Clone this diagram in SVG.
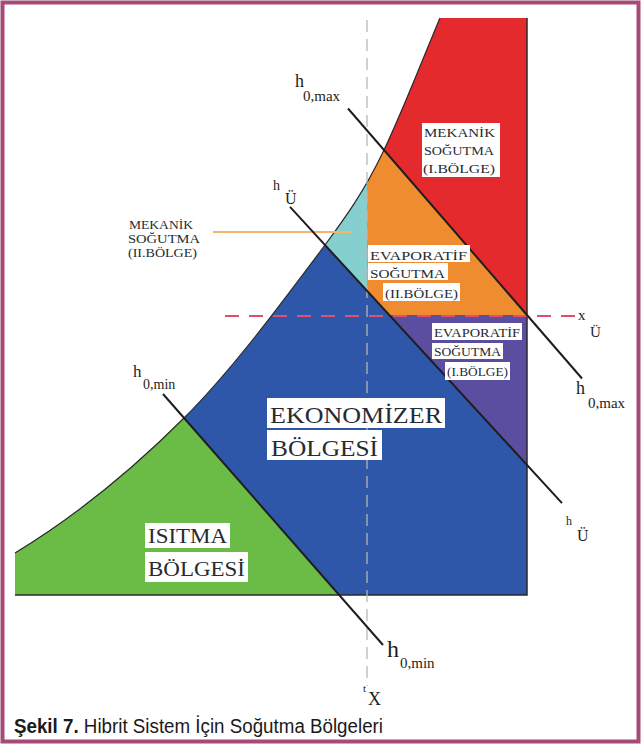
<svg xmlns="http://www.w3.org/2000/svg" width="641" height="745" viewBox="0 0 641 745">
<style>
.lbl{font-family:"Liberation Serif","Times New Roman",serif;fill:#1e1e1e}
.box{fill:#ffffff}
.bt{font-family:"Liberation Serif","Times New Roman",serif;fill:#262b32}
.ln{stroke:#1e1e1e;stroke-width:2;fill:none}
</style>
<defs>
<clipPath id="sat">
<path d="M15,553 C71,519 128,474 184,418 C231,371 278,308 325,245 C345,218 364,192 384,150 C403,110 421,63 440,18 L527,18 L527,595 L15,595 Z"/>
</clipPath>
</defs>
<rect x="0" y="0" width="641" height="745" fill="#ffffff"/>
<rect x="2.5" y="2.5" width="636" height="739" fill="none" stroke="#a64a78" stroke-width="4"/>

<g id="regions" clip-path="url(#sat)">
<rect id="blue" x="0" y="0" width="641" height="745" fill="#2f57a9"/>
<polygon id="green" points="0,208.2 400,664.2 0,664.2" fill="#6bbb47"/>
<polygon id="cyan" points="200,108.9 367,290.7 367,0 200,0" fill="#86cfcf"/>
<polygon id="orange" points="367,290.7 367,130.4 527,315 389.3,315" fill="#f08c30"/>
<polygon id="red" points="330,87.7 330,0 527,0 527,315" fill="#e52a2d"/>
<polygon id="purple" points="389.3,315 527,315 527,465.5" fill="#5b4da0"/>
</g>
<path id="curve" d="M15,553 C71,519 128,474 184,418 C231,371 278,308 325,245 C345,218 364,192 384,150 C403,110 421,63 440,18" fill="none" stroke="#2a2a2a" stroke-width="1.2"/>
<path d="M527,18 L527,595 L15,595" fill="none" stroke="#2a2a2a" stroke-width="1.5"/>

<g id="connectors">
<line x1="367" y1="20" x2="367" y2="686" stroke="#b8b8b8" stroke-width="1.5" stroke-dasharray="12 7" opacity="0.85"/>
<line x1="225" y1="316" x2="577" y2="316" stroke="#e0506e" stroke-width="2" stroke-dasharray="14 10"/>
<line x1="213" y1="232" x2="352" y2="232" stroke="#f4b46a" stroke-width="2"/>
<line class="ln" x1="348" y1="108.5" x2="582" y2="378.5"/>
<line class="ln" x1="290" y1="206.9" x2="562" y2="503.1"/>
<line class="ln" x1="163" y1="394" x2="383" y2="645"/>
</g>

<g id="axis-labels">
<text class="lbl" x="295" y="87" font-size="18">h</text>
<text class="lbl" x="303" y="101" font-size="15">0,max</text>
<text class="lbl" x="576" y="394" font-size="18">h</text>
<text class="lbl" x="588" y="408" font-size="15">0,max</text>
<text class="lbl" x="273" y="190" font-size="14">h</text>
<text class="lbl" x="285" y="204" font-size="16">Ü</text>
<text class="lbl" x="566" y="525" font-size="12">h</text>
<text class="lbl" x="577" y="541" font-size="16">Ü</text>
<text class="lbl" x="133" y="377" font-size="17">h</text>
<text class="lbl" x="143" y="389" font-size="14">0,min</text>
<text class="lbl" x="387" y="657" font-size="24">h</text>
<text class="lbl" x="400" y="668" font-size="15">0,min</text>
<text class="lbl" x="578" y="320" font-size="15">x</text>
<text class="lbl" x="590" y="337" font-size="15">Ü</text>
<text class="lbl" x="363" y="692" font-size="11">t</text>
<text class="lbl" x="368" y="705" font-size="18">X</text>
</g>

<g id="mekanik-1">
<rect class="box" x="422" y="123" width="78" height="54"/>
<text class="bt" x="424" y="137" font-size="12" textLength="71" lengthAdjust="spacingAndGlyphs">MEKANİK</text>
<text class="bt" x="424" y="155" font-size="12" textLength="70" lengthAdjust="spacingAndGlyphs">SOĞUTMA</text>
<text class="bt" x="423" y="173" font-size="12" textLength="72" lengthAdjust="spacingAndGlyphs">(I.BÖLGE)</text>
</g>

<g id="mekanik-2">
<text class="bt" x="129" y="229" font-size="13" textLength="64" lengthAdjust="spacingAndGlyphs" fill="#3a4550">MEKANİK</text>
<text class="bt" x="128" y="243" font-size="13" textLength="72" lengthAdjust="spacingAndGlyphs" fill="#3a4550">SOĞUTMA</text>
<text class="bt" x="128" y="257" font-size="13" textLength="69" lengthAdjust="spacingAndGlyphs" fill="#3a4550">(II.BÖLGE)</text>
</g>

<g id="evaporatif-2">
<rect class="box" x="368" y="245" width="102" height="17"/>
<text class="bt" x="370" y="260" font-size="13" textLength="97" lengthAdjust="spacingAndGlyphs">EVAPORATİF</text>
<rect class="box" x="368" y="263" width="80" height="17"/>
<text class="bt" x="370" y="278" font-size="13" textLength="75" lengthAdjust="spacingAndGlyphs">SOĞUTMA</text>
<rect class="box" x="383" y="283" width="77" height="18"/>
<text class="bt" x="385" y="298" font-size="13" textLength="73" lengthAdjust="spacingAndGlyphs">(II.BÖLGE)</text>
</g>

<g id="evaporatif-1">
<rect class="box" x="432" y="323" width="90" height="17"/>
<text class="bt" x="434" y="337" font-size="12" textLength="86" lengthAdjust="spacingAndGlyphs">EVAPORATİF</text>
<rect class="box" x="432" y="343" width="71" height="16"/>
<text class="bt" x="434" y="356" font-size="12" textLength="67" lengthAdjust="spacingAndGlyphs">SOĞUTMA</text>
<rect class="box" x="445" y="362" width="65" height="18"/>
<text class="bt" x="447" y="376" font-size="12" textLength="61" lengthAdjust="spacingAndGlyphs">(I.BÖLGE)</text>
</g>

<g id="ekonomizer">
<rect class="box" x="267" y="398" width="178" height="30"/>
<text class="bt" x="270" y="423" font-size="23" textLength="172" lengthAdjust="spacingAndGlyphs">EKONOMİZER</text>
<rect class="box" x="267" y="430" width="115" height="30"/>
<text class="bt" x="271" y="456" font-size="23" textLength="107" lengthAdjust="spacingAndGlyphs">BÖLGESİ</text>
</g>

<g id="isitma">
<rect class="box" x="145" y="523" width="85" height="25"/>
<text class="bt" x="148" y="543" font-size="20" textLength="79" lengthAdjust="spacingAndGlyphs">ISITMA</text>
<rect class="box" x="145" y="552" width="103" height="30"/>
<text class="bt" x="148" y="576" font-size="20" textLength="97" lengthAdjust="spacingAndGlyphs">BÖLGESİ</text>
</g>

<g id="caption">
<text x="14" y="733" font-family="'Liberation Sans',Arial,sans-serif" font-size="20" fill="#1a1a1a" textLength="369" lengthAdjust="spacingAndGlyphs"><tspan font-weight="bold">Şekil 7.</tspan> Hibrit Sistem İçin Soğutma Bölgeleri</text>
</g>
</svg>
